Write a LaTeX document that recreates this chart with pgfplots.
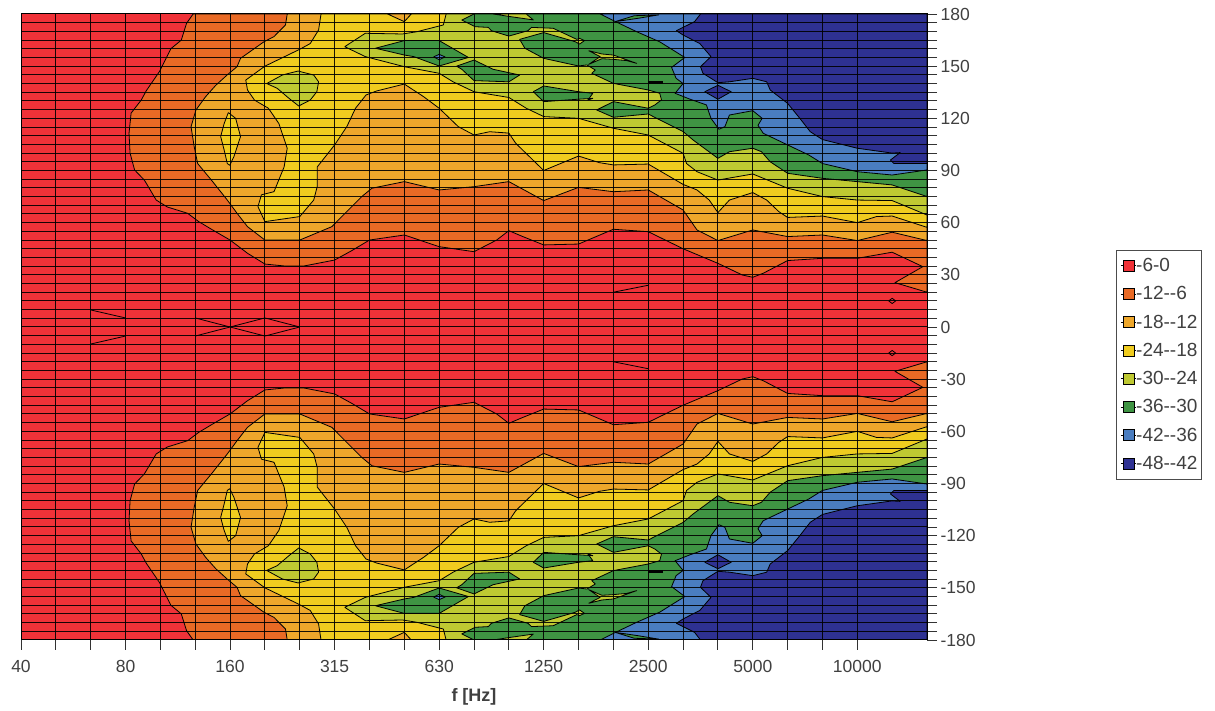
\documentclass[border=0pt]{standalone}
\usepackage{fontspec}
\setmainfont{Liberation Sans}
\usepackage{pgfplots}
\usepackage{pgfplotstable}
\pgfplotsset{compat=1.18}
\definecolor{cA}{HTML}{F03238}
\definecolor{cB}{HTML}{E96A25}
\definecolor{cC}{HTML}{EEA72B}
\definecolor{cD}{HTML}{F0CC1F}
\definecolor{cE}{HTML}{BFC932}
\definecolor{cF}{HTML}{3F9443}
\definecolor{cG}{HTML}{4A7DC0}
\definecolor{cH}{HTML}{2E3192}
\definecolor{txt}{HTML}{404040}
\pgfplotstableread{
x y
0 -180
26 -180
26 180
0 180
}\tBase
\pgfplotstableread{
x y
4.94 180
4.75 174.6
4.6 165
4.3 160
4.14 153.5
3.97 146.8
3.6 136
3.45 130.5
3.16 123
3.1 111.4
3.13 100
3.26 90.3
3.54 84.5
3.88 73
4.2 69
4.78 65.4
5.1 60.6
5.5 55.8
6 50
6.5 42.4
7 36.2
7.6 35
8.1 35
9 38.5
9.5 44
10 50
11 52.9
12 46.2
13 43.3
13.65 50
14 55.4
14.4 52
15 47.2
16 47.7
17 56.2
18 54.8
19 45
20 36.6
20.7 29.9
21 28.6
21.3 30.9
22 38.2
23 39.5
24 39.5
25 43
25.88 34.7
25.08 25.5
26 20
26 180
4.94 180
}\tB
\pgfplotstableread{
x y
7.64 180
7.59 173.7
7.26 167
6.97 164
6.64 159.3
6.3 154.5
6.2 149.7
5.92 145
5.59 139
5.3 132.5
5.02 124.8
4.88 115.2
4.97 103.7
5.07 94
5.5 83.6
5.92 73
6.2 65.4
6.5 57.7
7 50
8 50
8.92 57.7
9.3 65.4
9.78 75
10.07 79.8
11 83.6
12 78.8
13 80.7
14 83.6
15 72.7
16 80.3
17 77.8
18 78.8
19 67.3
19.4 55.8
20 49.7
21 55.8
22 52
23 52.9
24 49.7
25 54.5
26 49.7
26 180
7.64 180
}\tC
\pgfplotstableread{
x y
8.61 180
8.54 170.8
8.3 163
8 159.7
7 150
6.45 142
6.5 136.3
6.7 130.5
7.1 125.8
7.4 117
7.64 102.8
7.55 92
7.26 77.8
6.9 76
6.8 69.2
7 60.6
8 63.5
8.4 73
8.5 80.7
8.5 92
9 104.7
9.35 115.2
9.6 125.8
9.9 133.4
10.2 135.7
11 139.7
11.55 132.5
12 125.8
12.55 115.2
13 110.4
13.45 112.3
14 111.5
14.2 105.6
15 90
16 98.3
16.6 94.5
17 93.2
18 93.7
19 82
19.4 78.8
19.75 73
20 65.8
20.33 73
21 77.3
21.4 73
21.75 66.3
22 63
23 63.8
24 60
24.55 63.5
25 63.8
26 57.3
26 180
8.61 180
}\tD
\pgfplotstableread{
x y
5.95 123.3
6.16 120
6.3 109.5
6.11 98
5.99 93
5.92 94
5.83 101.8
5.73 109.5
5.83 117
5.95 123.3
}\tDi
\pgfplotstableread{
x y
10.52 180
11 175.6
11.2 180
10.52 180
}\tCi
\pgfplotstableread{
x y
9.29 161.2
9.88 168.9
10.95 168.5
11.36 169.8
12.12 173.7
12.2 180
26 180
26 64.4
25 72.7
24 73
23 75
22 79.8
21 88
20 84.5
19.4 89.3
19.1 94
19 99.9
18 110.4
17 114.3
16 120
15 121
14.5 125.8
14 132
13 135.3
12.4 141
12 145.9
11 149.7
9.88 155.5
9.29 161.2
}\tE
\pgfplotstableread{
x y
7.05 140
7.5 144.9
7.95 147.2
8.4 144.9
8.54 141
8.49 135.3
8.3 130.5
7.97 127.1
7.69 131.5
7.35 137.3
7.05 140
}\tEi
\pgfplotstableread{
x y
13 180
12.65 176.5
13.03 172.7
13.41 172.3
13.5 170.4
14 167.3
14.55 170.4
14.65 172.3
15.27 171.8
15.95 165.4
16.03 166
16.17 164.7
16.03 162.7
15.9 164.1
15 169.3
14.31 165.4
14.46 160.3
15 154.5
16 150.1
16.24 150.7
16.48 147.8
16.38 145.9
17 140.1
18 136.3
18.33 134.4
18.38 130.6
18.19 127.7
18 125.8
17 129.6
16.52 124.8
17 120.6
18 122.5
18.24 120
19 112.4
19.29 107.5
20 97
20.33 100.8
21 102.8
21.25 100.8
21.5 95
22 88.4
23 85.5
24 83.6
25 81.7
26 75
26 180
13 180
}\tF
\pgfplotstableread{
x y
13.55 180
14.04 178.5
14.7 176.6
14.5 180
13.55 180
}\tEa
\pgfplotstableread{
x y
16.29 158.9
16.67 157
17 156.4
17.67 151.6
17.38 153.2
17 153.9
16.67 154.3
16.29 151
16.62 155.5
16.29 158.9
}\tEb
\pgfplotstableread{
x y
10.17 160.3
11 164.7
12 164.7
12.84 155
12 150.1
11.27 155.5
11 156.4
10.17 160.3
}\tFa
\pgfplotstableread{
x y
12.5 150
13 153.5
13.55 148.2
14.31 144.9
14 141
13 141.7
12.65 148.2
12.5 150
}\tFb
\pgfplotstableread{
x y
14.7 135.3
15 138.6
16 135.3
16.41 134.4
16.27 130.5
16.41 131.5
16 131
15 129.6
14.7 135.3
}\tFc
\pgfplotstableread{
x y
16.62 180
17 176.2
17.67 169.8
18.33 164
19.05 155
18.67 149.3
18.8 143
19 140
18.77 134.4
19.2 131
19.67 127.7
19.8 120
20.03 113.7
20.2 115.2
20.33 121.9
21 124.4
21.27 120
21.15 116
21.3 111.4
21.5 109.5
22 104.7
22.6 99
23 94
24 89.3
25 87.4
26 90.3
26 180
16.62 180
}\tG
\pgfplotstableread{
x y
17.05 175.6
17.6 179
18.3 179.5
17.7 177.5
17.05 175.6
}\tFd
\pgfplotstableread{
x y
11.84 155.3
12 156.8
12.17 155.3
12 153.7
11.84 155.3
}\tGa
\pgfplotstableread{
x y
19.5 180
19.33 175.6
18.81 170.4
19 167.9
19.48 163
19.8 155.5
19.5 149.7
19.57 145.9
20 140.5
20.33 141
21 143
21.4 141
21.5 136.3
22 128.6
22.35 120
22.65 112.3
23 107.8
24 102.8
25 100
25.23 100.3
24.95 96
25.05 94
26 94
26 180
19.5 180
}\tH
\pgfplotstableread{
x y
19.62 135.3
20 139
20.38 135.3
20 131
19.62 135.3
}\tHa
\pgfplotstableread{
x y
24.9 15
25 16.5
25.1 15
25 13.5
24.9 15
}\tAa
\pgfplotstableread{
x y
2 9.8
3 5.2
}\lA
\pgfplotstableread{
x y
5 5.2
6 0
7 5.2
8 0
}\lB
\pgfplotstableread{
x y
17 20
18 24
}\lC
\pgfplotstableread{
x y
18 140.7
18.42 140.7
}\lD
\newcommand{\poly}[2]{%
  \addplot[forget plot,fill=#1,draw=black,line width=0.8pt,line join=round] table[x=x,y=y] {#2};
  \addplot[forget plot,fill=#1,draw=black,line width=0.8pt,line join=round] table[x=x,y expr=-\thisrow{y}] {#2};
}
\newcommand{\lin}[2]{%
  \addplot[forget plot,draw=black,line width=#1] table[x=x,y=y] {#2};
  \addplot[forget plot,draw=black,line width=#1] table[x=x,y expr=-\thisrow{y}] {#2};
}
\begin{document}
\begin{tikzpicture}[x=1pt,y=1pt]
\path[use as bounding box] (0,0) rectangle (1215,711);
\begin{axis}[
  at={(21pt,71pt)},anchor=south west,
  scale only axis,width=906pt,height=626pt,
  xmin=0,xmax=26,ymin=-180,ymax=180,
  axis on top,
  xtick={0,3,6,9,12,15,18,21,24},
  xticklabels={40,80,160,315,630,1250,2500,5000,10000},
  minor x tick num=2,
  ytick={-180,-150,-120,-90,-60,-30,0,30,60,90,120,150,180},
  yticklabels={-180,-150,-120,-90,-60,-30,0,30,60,90,120,150,180},
  minor y tick num=5,
  yticklabel pos=right,
  xmajorgrids,xminorgrids,ymajorgrids,yminorgrids,
  grid style={draw=black,line width=1pt,opacity=0.9},
  minor grid style={draw=black,line width=1pt,opacity=0.9},
  tick align=outside,
  major tick length=10pt,minor tick length=10pt,
  tick style={draw=black!80,line width=0.9pt},
  minor tick style={draw=black!80,line width=0.9pt},
  axis line style={draw=black,line width=1pt},
  xtick pos=lower,ytick pos=right,
  tick label style={font=\fontsize{17.5}{20}\selectfont,text=txt},
  xticklabel style={yshift=-7pt},
  yticklabel style={xshift=0pt},
  xlabel={\textbf{f [Hz]}},
  xlabel style={font=\fontsize{18}{21}\selectfont,text=txt,yshift=-9pt},
  legend style={at={(1.2086,0.623)},anchor=north west,draw=black!70,line width=0.8pt,
    font=\fontsize{19}{22}\selectfont,text=txt,row sep=9.5pt,inner xsep=4pt,inner ysep=6pt,
    nodes={inner xsep=0pt}},
  legend cell align=left,
  legend image code/.code={\path (0pt,0pt) -- (15pt,0pt);\draw[#1,draw=black,line width=0.8pt] (3pt,-5.5pt) rectangle (14pt,5.5pt);},
]
\addplot[forget plot,fill=cA,draw=none] table[x=x,y=y] {\tBase};
\poly{cB}{\tB}
\poly{cC}{\tC}
\poly{cD}{\tD}
\poly{cD}{\tDi}
\poly{cC}{\tCi}
\poly{cE}{\tE}
\poly{cE}{\tEi}
\poly{cF}{\tF}
\poly{cE}{\tEa}
\poly{cE}{\tEb}
\poly{cF}{\tFa}
\poly{cF}{\tFb}
\poly{cF}{\tFc}
\poly{cG}{\tG}
\poly{cF}{\tFd}
\poly{cG}{\tGa}
\poly{cH}{\tH}
\poly{cH}{\tHa}
\poly{cA}{\tAa}
\lin{0.8pt}{\lA}
\lin{0.8pt}{\lB}
\lin{0.8pt}{\lC}
\lin{2.4pt}{\lD}
\addlegendimage{fill=cA}\addlegendentry{-6-0}
\addlegendimage{fill=cB}\addlegendentry{-12-{}-6}
\addlegendimage{fill=cC}\addlegendentry{-18-{}-12}
\addlegendimage{fill=cD}\addlegendentry{-24-{}-18}
\addlegendimage{fill=cE}\addlegendentry{-30-{}-24}
\addlegendimage{fill=cF}\addlegendentry{-36-{}-30}
\addlegendimage{fill=cG}\addlegendentry{-42-{}-36}
\addlegendimage{fill=cH}\addlegendentry{-48-{}-42}
\end{axis}
\end{tikzpicture}
\end{document}
